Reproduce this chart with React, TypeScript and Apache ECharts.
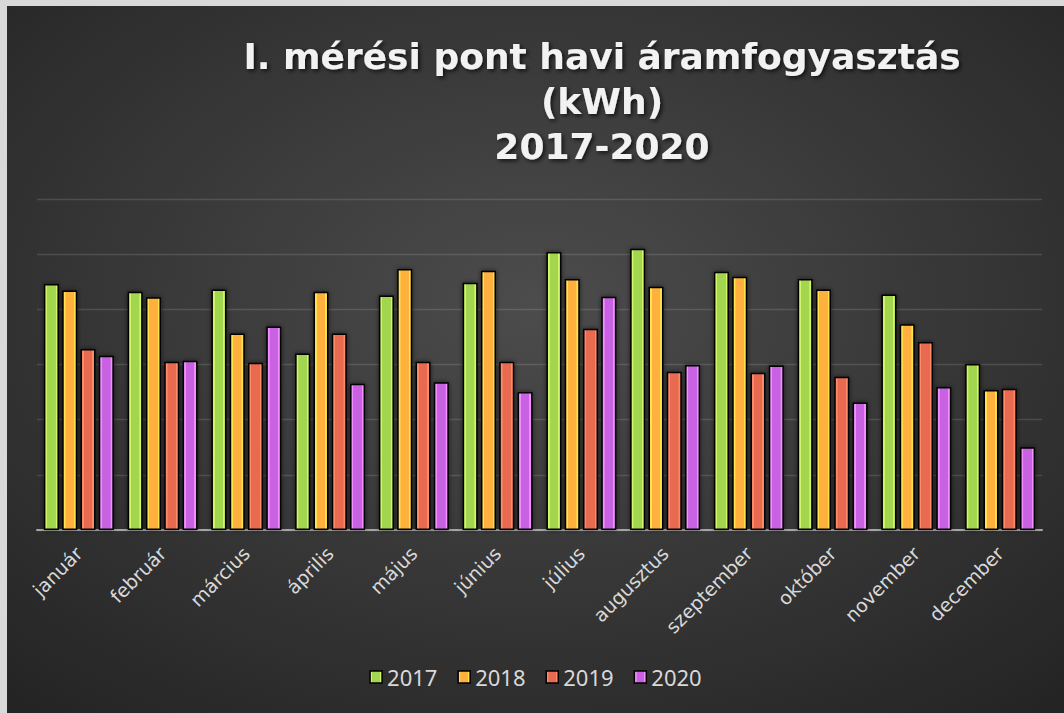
import React, { useEffect, useRef } from "react";
import * as echarts from "echarts";

const months = ["január", "február", "március", "április", "május", "június", "július", "augusztus", "szeptember", "október", "november", "december"];
const years = ["2017", "2018", "2019", "2020"];
const v2017 = [446, 432, 436, 320, 425, 448, 504, 510, 468, 455, 427, 301];
const v2018 = [434, 422, 356, 432, 473, 470, 455, 441, 459, 436, 373, 254];
const v2019 = [328, 305, 303, 356, 305, 305, 365, 287, 285, 278, 341, 256];
const v2020 = [316, 307, 369, 265, 268, 250, 423, 299, 298, 231, 259, 150];
const seriesValues = [v2017, v2018, v2019, v2020];
const palettes = [
  { edge: "#d2f56a", inner: "#a2d650", dark: "#8cc83a" },
  { edge: "#ffe24e", inner: "#ffb03e", dark: "#eea22a" },
  { edge: "#ff8a6a", inner: "#e86a50", dark: "#d84e34" },
  { edge: "#f290ff", inner: "#c862e2", dark: "#b448d4" },
];

function barFill(p: { edge: string; inner: string; dark: string }) {
  return {
    type: "linear", x: 0, y: 0, x2: 1, y2: 0,
    colorStops: [
      { offset: 0, color: p.edge },
      { offset: 0.17, color: p.edge },
      { offset: 0.2, color: p.inner },
      { offset: 0.8, color: p.inner },
      { offset: 0.83, color: p.edge },
      { offset: 1, color: p.edge },
    ],
  };
}

export default function App() {
  const ref = useRef<HTMLDivElement>(null);
  useEffect(() => {
    if (!ref.current) return;
    const chart = echarts.init(ref.current, null, { renderer: "svg" });
    chart.setOption({
      animation: false,
      backgroundColor: {
        type: "radial", x: 0.5, y: 0.42, r: 0.75,
        colorStops: [
          { offset: 0, color: "#4c4c4c" },
          { offset: 1, color: "#242424" },
        ],
      },
      title: {
        text: "I. mérési pont havi áramfogyasztás\n(kWh)\n2017-2020",
        left: 590,
        textAlign: "center",
        top: 23,
        textStyle: {
          color: "#f2f2f2",
          fontFamily: "DejaVu Sans",
          fontWeight: "bold",
          fontSize: 36,
          lineHeight: 45,
          textShadowColor: "rgba(0,0,0,0.7)",
          textShadowBlur: 4,
          textShadowOffsetX: 2,
          textShadowOffsetY: 2,
        },
      },
      legend: {
        bottom: 20,
        left: "center",
        itemWidth: 12,
        itemHeight: 12,
        itemGap: 20,
        icon: "rect",
        itemStyle: { borderColor: "#000", borderWidth: 1.5 },
        textStyle: { color: "#d9d9d9", fontSize: 22, fontFamily: "Noto Sans" },
        data: years,
      },
      grid: { left: 30, right: 22, top: 193, bottom: 183, containLabel: false },
      xAxis: {
        type: "category",
        data: months,
        axisTick: { show: false },
        axisLine: { lineStyle: { color: "#a6a6a6", width: 2 } },
        axisLabel: {
          rotate: 45,
          margin: 20,
          color: "#d9d9d9",
          fontSize: 19,
          fontFamily: "DejaVu Sans",
          interval: 0,
        },
      },
      yAxis: {
        type: "value",
        min: 0,
        max: 600,
        interval: 100,
        axisLabel: { show: false },
        axisLine: { show: false },
        axisTick: { show: false },
        splitLine: { lineStyle: { color: "rgba(255,255,255,0.13)", width: 1.3 } },
      },
      series: years.map((y, i) => ({
        name: y,
        type: "bar",
        data: seriesValues[i],
        barWidth: 15,
        barGap: "22%",
        itemStyle: {
          color: barFill(palettes[i]),
          borderColor: "#000",
          borderWidth: 1.5,
          shadowBlur: 5,
          shadowColor: "rgba(0,0,0,0.6)",
        },
      })),
    });
    return () => chart.dispose();
  }, []);
  return (
    <div style={{ position: "fixed", left: 0, top: 0, width: 1064, height: 713, background: "#d9d9d9" }}>
      <div ref={ref} style={{ position: "absolute", left: 7, top: 6, width: 1057, height: 707 }} />
    </div>
  );
}
